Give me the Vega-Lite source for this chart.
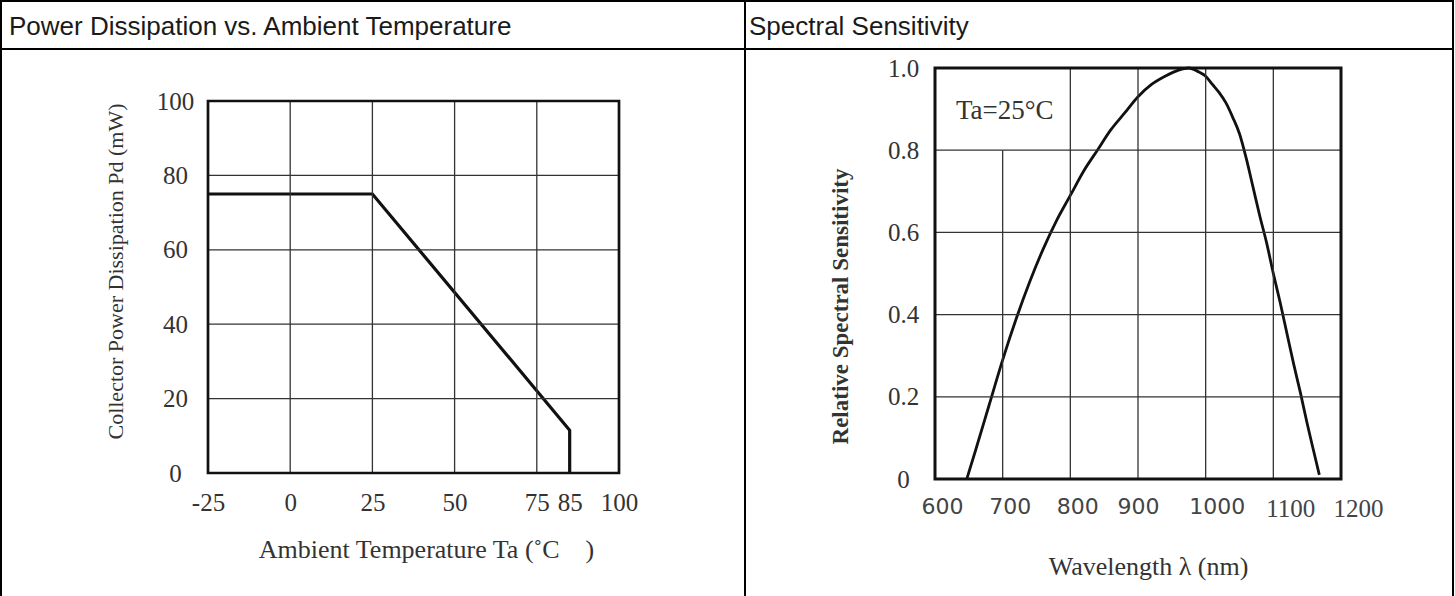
{
  "$schema": "https://vega.github.io/schema/vega-lite/v6.json",
  "padding": 0,
  "background": "white",
  "columns": 2,
  "spacing": 0,
  "bounds": "flush",
  "config": {
    "view": {"stroke": "black", "strokeWidth": 2},
    "axis": {"tickSize": 0, "ticks": false, "domain": false, "grid": false, "labelOverlap": false, "labelFlush": false, "labelColor": "#333", "titleColor": "#333", "titleFontWeight": "normal"}
  },
  "concat": [
    {
      "width": 744, "height": 48,
      "data": {"values": [{"title": "Power Dissipation vs. Ambient Temperature"}]},
      "mark": {"type": "text", "align": "left", "baseline": "middle", "font": "Liberation Sans", "fontSize": 26, "color": "#1a1a1a", "dx": 8, "dy": 2},
      "encoding": {
        "text": {"field": "title"},
        "x": {"datum": 0, "type": "quantitative", "scale": {"domain": [0, 1]}, "axis": null},
        "y": {"datum": 0.5, "type": "quantitative", "scale": {"domain": [0, 1]}, "axis": null}
      }
    },
    {
      "width": 708, "height": 48,
      "data": {"values": [{"title": "Spectral Sensitivity"}]},
      "mark": {"type": "text", "align": "left", "baseline": "middle", "font": "Liberation Sans", "fontSize": 26, "color": "#1a1a1a", "dx": 4, "dy": 2},
      "encoding": {
        "text": {"field": "title"},
        "x": {"datum": 0, "type": "quantitative", "scale": {"domain": [0, 1]}, "axis": null},
        "y": {"datum": 0.5, "type": "quantitative", "scale": {"domain": [0, 1]}, "axis": null}
      }
    },
    {
      "width": 744, "height": 550,
      "layer": [
        {
          "data": {"values": [{"Ta": -25, "Pd": 75}, {"Ta": 25, "Pd": 75}, {"Ta": 85, "Pd": 11.5}, {"Ta": 85, "Pd": 0}]},
          "mark": {"type": "line", "color": "#111", "strokeWidth": 3.2},
          "encoding": {
            "x": {"field": "Ta", "type": "quantitative", "scale": {"domain": [-25, 100], "range": [207, 618], "nice": false, "zero": false},
              "axis": {"values": [-25, 0, 25, 50, 75, 85, 100], "offset": -126, "labelPadding": 17, "labelFont": "Liberation Serif", "labelFontSize": 25,
                "labelExpr": "datum.value < 0 ? '-' + abs(datum.value) : '' + datum.value",
                "title": "Ambient Temperature Ta (˚C\u00a0\u00a0\u00a0\u00a0)", "titleFont": "Liberation Serif", "titleFontSize": 26, "titleX": 425, "titleY": 76, "titleBaseline": "middle"}},
            "y": {"field": "Pd", "type": "quantitative", "scale": {"domain": [0, 100], "range": [424, 52], "nice": false},
              "axis": {"values": [0, 20, 40, 60, 80, 100], "offset": -207, "labelPadding": 33, "labelAlign": "center", "labelBaseline": "middle", "labelFont": "Liberation Serif", "labelFontSize": 25,
                "title": "Collector Power Dissipation Pd (mW)", "titleFont": "Liberation Serif", "titleFontSize": 22, "titleX": -93, "titleY": 222, "titleBaseline": "middle"}},
            "order": {"value": null}
          }
        },
        {
          "data": {"values": [{"Ta": 0}, {"Ta": 25}, {"Ta": 50}, {"Ta": 75}]},
          "mark": {"type": "rule", "color": "#333", "strokeWidth": 1.3},
          "encoding": {
            "x": {"field": "Ta", "type": "quantitative"},
            "y": {"datum": 0, "type": "quantitative"},
            "y2": {"datum": 100}
          }
        },
        {
          "data": {"values": [{"Pd": 20}, {"Pd": 40}, {"Pd": 60}, {"Pd": 80}]},
          "mark": {"type": "rule", "color": "#333", "strokeWidth": 1.3},
          "encoding": {
            "y": {"field": "Pd", "type": "quantitative"},
            "x": {"datum": -25, "type": "quantitative"},
            "x2": {"datum": 100}
          }
        },
        {
          "data": {"values": [{"frame": 1}]},
          "mark": {"type": "rect", "filled": false, "stroke": "#111", "strokeWidth": 2.7},
          "encoding": {
            "x": {"datum": -25, "type": "quantitative"},
            "x2": {"datum": 100},
            "y": {"datum": 0, "type": "quantitative"},
            "y2": {"datum": 100}
          }
        }
      ]
    },
    {
      "width": 708, "height": 550,
      "layer": [
        {
          "data": {"values": [
            {"nm": 647, "rel": 0}, {"nm": 660, "rel": 0.07}, {"nm": 680, "rel": 0.18}, {"nm": 700, "rel": 0.29},
            {"nm": 720, "rel": 0.39}, {"nm": 740, "rel": 0.48}, {"nm": 760, "rel": 0.56}, {"nm": 780, "rel": 0.63},
            {"nm": 800, "rel": 0.69}, {"nm": 820, "rel": 0.75}, {"nm": 840, "rel": 0.80}, {"nm": 860, "rel": 0.85},
            {"nm": 880, "rel": 0.89}, {"nm": 900, "rel": 0.93}, {"nm": 920, "rel": 0.96}, {"nm": 940, "rel": 0.98},
            {"nm": 960, "rel": 0.995}, {"nm": 975, "rel": 1.0}, {"nm": 990, "rel": 0.99}, {"nm": 1000, "rel": 0.98},
            {"nm": 1010, "rel": 0.96}, {"nm": 1020, "rel": 0.94}, {"nm": 1030, "rel": 0.915}, {"nm": 1040, "rel": 0.88},
            {"nm": 1050, "rel": 0.84}, {"nm": 1060, "rel": 0.78}, {"nm": 1070, "rel": 0.71}, {"nm": 1080, "rel": 0.64},
            {"nm": 1090, "rel": 0.575}, {"nm": 1100, "rel": 0.50}, {"nm": 1110, "rel": 0.43}, {"nm": 1120, "rel": 0.355},
            {"nm": 1130, "rel": 0.28}, {"nm": 1140, "rel": 0.21}, {"nm": 1150, "rel": 0.135}, {"nm": 1160, "rel": 0.065},
            {"nm": 1168, "rel": 0.01}
          ]},
          "mark": {"type": "line", "color": "#111", "strokeWidth": 2.8, "interpolate": "monotone"},
          "encoding": {
            "x": {"field": "nm", "type": "quantitative", "scale": {"domain": [600, 1200], "range": [190, 596], "nice": false, "zero": false},
              "axis": {"values": [600, 700, 800, 900, 1000, 1100, 1200], "offset": -120, "labelPadding": 17, "format": "d",
                "labelFont": {"expr": "datum.value >= 1100 ? 'Liberation Serif' : 'DejaVu Sans'"},
                "labelFontSize": {"expr": "datum.value >= 1100 ? 25 : 22"},
                "labelOffset": {"expr": "datum.value == 900 ? 0 : datum.value >= 1100 ? 17 : datum.value == 1000 ? 11 : 7"},
                "labelColor": "#444",
                "title": "Wavelength λ (nm)", "titleFont": "Liberation Serif", "titleFontSize": 26, "titleX": 403, "titleY": 87, "titleBaseline": "middle"}},
            "y": {"field": "rel", "type": "quantitative", "scale": {"domain": [0, 1], "range": [430, 19], "nice": false},
              "axis": {"values": [0, 0.2, 0.4, 0.6, 0.8, 1.0], "offset": -190, "labelPadding": 32, "labelAlign": "center", "labelBaseline": "middle", "labelFont": "Liberation Serif", "labelFontSize": 25,
                "labelExpr": "datum.value == 0 ? '0' : format(datum.value, '.1f')",
                "title": "Relative Spectral Sensitivity", "titleFont": "Liberation Serif", "titleFontSize": 23, "titleFontWeight": "bold", "titleX": -95, "titleY": 257, "titleBaseline": "middle"}}
          }
        },
        {
          "data": {"values": [{"nm": 800}, {"nm": 900}, {"nm": 1000}, {"nm": 1100}]},
          "mark": {"type": "rule", "color": "#333", "strokeWidth": 1.3},
          "encoding": {
            "x": {"field": "nm", "type": "quantitative"},
            "y": {"datum": 0, "type": "quantitative"},
            "y2": {"datum": 1}
          }
        },
        {
          "data": {"values": [{"nm": 700}]},
          "mark": {"type": "rule", "color": "#333", "strokeWidth": 1.3},
          "encoding": {
            "x": {"field": "nm", "type": "quantitative"},
            "y": {"datum": 0, "type": "quantitative"},
            "y2": {"datum": 0.8}
          }
        },
        {
          "data": {"values": [{"rel": 0.2}, {"rel": 0.4}, {"rel": 0.6}, {"rel": 0.8}]},
          "mark": {"type": "rule", "color": "#333", "strokeWidth": 1.3},
          "encoding": {
            "y": {"field": "rel", "type": "quantitative"},
            "x": {"datum": 600, "type": "quantitative"},
            "x2": {"datum": 1200}
          }
        },
        {
          "data": {"values": [{"frame": 1}]},
          "mark": {"type": "rect", "filled": false, "stroke": "#111", "strokeWidth": 3},
          "encoding": {
            "x": {"datum": 600, "type": "quantitative"},
            "x2": {"datum": 1200},
            "y": {"datum": 0, "type": "quantitative"},
            "y2": {"datum": 1}
          }
        },
        {
          "data": {"values": [{"label": "Ta=25°C", "nm": 631, "rel": 0.895}]},
          "mark": {"type": "text", "align": "left", "baseline": "middle", "font": "Liberation Serif", "fontSize": 27, "color": "#333"},
          "encoding": {
            "text": {"field": "label"},
            "x": {"field": "nm", "type": "quantitative"},
            "y": {"field": "rel", "type": "quantitative"}
          }
        }
      ]
    }
  ]
}
